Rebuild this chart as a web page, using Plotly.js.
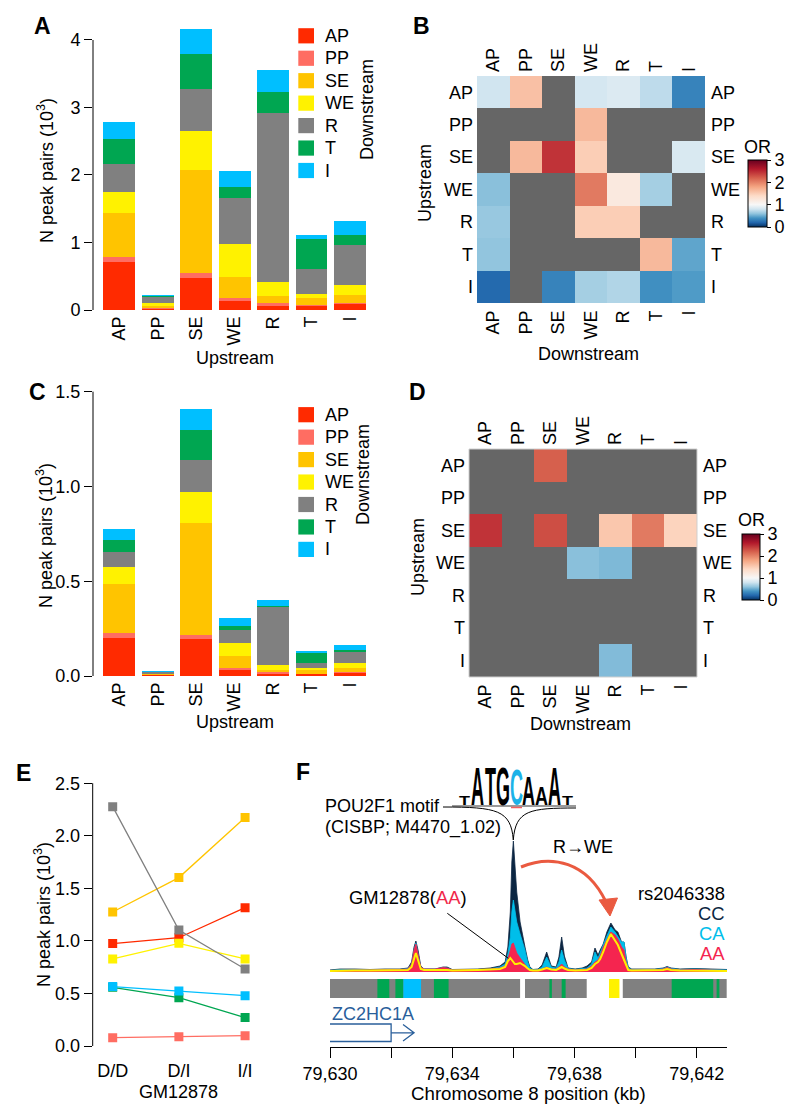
<!DOCTYPE html>
<html><head><meta charset="utf-8">
<script src="https://cdn.plot.ly/plotly-3.0.1.min.js"></script>
<style>html,body{margin:0;padding:0;background:#fff}#plot{width:800px;height:1119px}</style>
</head><body><div id="plot"></div>
<script>
// ---------- DATA ----------
const classes = ['AP','PP','SE','WE','R','T','I'];
const classColors = ['#FF2A00','#FF6D62','#FFC400','#FFF200','#808080','#00A651','#00BFFF'];

// Panel A: all peak pairs (10^3); one array per downstream class, across upstream classes
const A_AP = [0.716, 0.020, 0.479, 0.133, 0.064, 0.064, 0.094];
const A_PP = [0.064, 0.012, 0.069, 0.050, 0.035, 0.010, 0.015];
const A_SE = [0.652, 0.025, 1.526, 0.311, 0.113, 0.109, 0.118];
const A_WE = [0.311, 0.045, 0.573, 0.479, 0.208, 0.054, 0.143];
const A_R  = [0.420, 0.095, 0.627, 0.686, 2.499, 0.365, 0.588];
const A_T  = [0.365, 0.010, 0.514, 0.158, 0.311, 0.445, 0.153];
const A_I  = [0.252, 0.015, 0.380, 0.247, 0.321, 0.059, 0.212];

// Panel C: subset of peak pairs (10^3)
const C_AP = [0.202, 0.003, 0.197, 0.032, 0.012, 0.009, 0.018];
const C_PP = [0.023, 0.002, 0.019, 0.010, 0.007, 0.003, 0.003];
const C_SE = [0.259, 0.005, 0.593, 0.065, 0.014, 0.020, 0.023];
const C_WE = [0.089, 0.003, 0.160, 0.065, 0.027, 0.012, 0.023];
const C_R  = [0.083, 0.006, 0.170, 0.072, 0.302, 0.026, 0.060];
const C_T  = [0.061, 0.004, 0.159, 0.022, 0.009, 0.053, 0.012];
const C_I  = [0.058, 0.002, 0.110, 0.038, 0.032, 0.009, 0.025];

// Panel B: odds ratios (rows upstream, cols downstream; null = not significant)
const B_OR = [
  [0.80, 1.60, null, 0.82, 0.86, 0.74, 0.33],
  [null, null, null, 1.65, null, null, null],
  [null, 1.65, 2.45, 1.50, null, null, 0.84],
  [0.58, null, null, 2.05, 1.20, 0.66, null],
  [0.62, null, null, 1.50, 1.50, null, null],
  [0.60, null, null, null, null, 1.65, 0.47],
  [0.22, null, 0.33, 0.66, 0.70, 0.38, 0.43]
];
// Panel D: odds ratios
const D_OR = [
  [null, null, 2.20, null, null, null, null],
  [null, null, null, null, null, null, null],
  [2.45, null, 2.30, null, 1.55, 2.05, 1.45],
  [null, null, null, 0.58, 0.55, null, null],
  [null, null, null, null, null, null, null],
  [null, null, null, null, null, null, null],
  [null, null, null, null, 0.56, null, null]
];
const orTicks = [0, 1, 2, 3];

// Panel E: peak pairs by GM12878 genotype (10^3)
const genotypes = ['D/D', 'D/I', 'I/I'];
const E_AP = [0.974, 1.030, 1.316];
const E_PP = [0.079, 0.089, 0.098];
const E_SE = [1.275, 1.602, 2.173];
const E_WE = [0.828, 0.977, 0.828];
const E_R  = [2.277, 1.104, 0.733];
const E_T  = [0.558, 0.460, 0.270];
const E_I  = [0.565, 0.523, 0.479];

// Panel F: signal tracks along chr8 (kb)
const fPos = [79630.00,79630.33,79630.82,79631.31,79631.80,79632.29,79632.55,79632.67,79632.75,79632.81,
  79632.88,79632.97,79633.08,79633.44,79633.70,79633.83,79634.00,79634.42,79634.84,79635.24,
  79635.56,79635.73,79635.82,79635.90,79635.95,79636.00,79636.05,79636.11,79636.22,79636.32,
  79636.38,79636.47,79636.54,79636.64,79636.81,79636.94,79637.09,79637.24,79637.40,79637.49,
  79637.58,79637.67,79637.79,79638.02,79638.25,79638.41,79638.56,79638.67,79638.77,79638.84,
  79638.94,79639.06,79639.19,79639.33,79639.42,79639.54,79639.62,79639.69,79639.76,79639.87,
  79640.14,79640.63,79640.90,79641.03,79641.16,79641.45,79641.94,79642.44,79643.00];
const sigCC = [2,3,3,2.5,3,3,4,10,25,31, 22,6,3,3,5,5,2.5,2.5,3,4, 6,10,25,60,110,131,112,80,50,32,
  25,12,5,2.5,3,7,20,6,5,15, 35,16,4,3,4,6,10,24,17,22, 28,40,49,42,40,30,30,15,5,3, 3,3,4,5.5,4,3,3.5,3,2.5];
const sigCA = [1.5,2.5,2.5,2,2.5,2.5,3.5,8,22,29, 18,5,3,3,4.5,4,2,2,2.5,3, 5,8,18,35,60,72,62,50,38,29,
  22,10,4,2,2.5,5,15,5,4,10, 22,12,3.5,2.5,3,4,8,20,14,20, 27,36,45,40,36,30,30,14,4,2.5, 2.5,2.5,3.5,5,3.5,2.5,3,2.5,2];
const sigAA = [1.5,2,2,2,2,2.5,3,8,22,28, 18,5,3,3,4.5,4,2,2,2.5,3, 4,6,13,22,28,29,25,19,14,10,
  7,4,2.5,1.5,2,3,5,3,3,5, 8,5,3,2,2.5,3,6,10,12,16, 25,33,40,37,33,25,22,10,3,2, 2,2,3,4.5,3,2,2.5,2,1.5];
const sigGM = [1,1.5,1.5,1.5,1.5,1.5,2,5,14,19, 12,3,2,2,2.5,2,1.5,1.5,2,2.5, 3,5,11,14,12,10,8,8,9,7,
  6,3.5,2,1.5,1.5,2.5,4,2.5,2,3.5, 5,3.5,2,1.5,1.5,2,4,8,10,13, 20,30,38,32,27,18,12,6,2,1.5, 1.5,1.5,2,3,2,1.5,1.5,1.5,1];
const genoLabels = ['CC', 'CA', 'AA'];
const genoColors = ['#0B2642', '#00BEEA', '#F5254F'];

// chromatin state segments
const stateStart = [79630.00, 79636.38, 79639.58, 79639.13, 79631.55, 79632.14, 79632.40, 79633.40, 79637.18, 79637.58, 79641.18, 79642.65];
const stateEnd   = [79636.22, 79638.40, 79642.98, 79639.47, 79631.94, 79632.40, 79632.98, 79633.88, 79637.26, 79637.71, 79642.54, 79642.74];
const stateClass = ['R','R','R','WE','T','T','I','T','T','T','T','T'];

// gene model
const geneName = 'ZC2HC1A';
const geneExonStart = 79630.0, geneExonEnd = 79632.0, geneArrowEnd = 79632.75;
const genomicTicks = [79630, 79632, 79634, 79636, 79638, 79640, 79642];
const genomicTickText = ['79,630', '', '79,634', '', '79,638', '', '79,642'];

// motif logo (POU2F1, information in bits)
const logoLetters = ['T','A','T','G','C','A','A','A','T'];
const logoBits = [0.5, 2.0, 2.0, 2.0, 1.9, 1.55, 0.95, 2.0, 0.5];

// ---------- HELPERS ----------
const FONT = 'Liberation Sans, Arial, Helvetica, sans-serif';
const W = 800, H = 1119;
const fx = p => p / W;
const fy = p => 1 - p / H;
const dX = (a, b) => [a / W, b / W];
const dY = (top, bot) => [1 - bot / H, 1 - top / H];
const P = (x, y) => fx(x).toFixed(5) + ',' + fy(y).toFixed(5);
const TICK = 18, TITLE = 18;

const annotations = [];
function txt(text, x, y, o = {}) {
  const font = Object.assign({ size: 18, color: '#000', family: FONT }, o.font || {});
  const a = Object.assign({ text, x: fx(x), y: fy(y), xref: 'paper', yref: 'paper', showarrow: false,
    xanchor: 'center', yanchor: 'middle' }, o);
  a.font = font;
  annotations.push(a);
  return annotations.length - 1;
}
const shapes = [];

// ---------- TRACES ----------
const traces = [];
const stackA = [A_AP, A_PP, A_SE, A_WE, A_R, A_T, A_I];
const stackC = [C_AP, C_PP, C_SE, C_WE, C_R, C_T, C_I];
classes.forEach((c, i) => {
  traces.push({ type: 'bar', x: classes, y: stackA[i], name: c, xaxis: 'x', yaxis: 'y',
    marker: { color: classColors[i], line: { width: 0 } }, hoverinfo: 'skip' });
});
classes.forEach((c, i) => {
  traces.push({ type: 'bar', x: classes, y: stackC[i], name: c, xaxis: 'x4', yaxis: 'y4',
    marker: { color: classColors[i], line: { width: 0 } }, hoverinfo: 'skip' });
});

const rdbu = [[0, '#053061'], [0.0667, '#2166AC'], [0.1333, '#4393C3'], [0.2, '#92C5DE'], [0.2667, '#D1E5F0'],
  [0.3333, '#F7F7F7'], [0.4667, '#FDDBC7'], [0.6, '#F4A582'], [0.7333, '#D6604D'], [0.8667, '#B2182B'], [1, '#67001F']];
function cbar(xp, yTop, yBot, thick) {
  return { x: fx(xp), xanchor: 'left', y: fy(yBot), yanchor: 'bottom', len: yBot - yTop, lenmode: 'pixels',
    thickness: thick, thicknessmode: 'pixels', outlinewidth: 1, outlinecolor: '#000', xpad: 0, ypad: 0,
    tickvals: orTicks, ticks: 'outside', ticklen: 4, tickcolor: '#000', tickfont: { size: TICK, family: FONT } };
}
traces.push({ type: 'heatmap', x: classes, y: classes, z: B_OR, xaxis: 'x2', yaxis: 'y2', colorscale: rdbu,
  zmin: 0, zmax: 3, colorbar: cbar(748, 160, 227, 19), hoverinfo: 'skip' });
traces.push({ type: 'heatmap', x: classes, y: classes, z: B_OR, xaxis: 'x3', yaxis: 'y3', colorscale: rdbu,
  zmin: 0, zmax: 3, showscale: false, opacity: 0, hoverinfo: 'skip' });
traces.push({ type: 'heatmap', x: classes, y: classes, z: D_OR, xaxis: 'x5', yaxis: 'y5', colorscale: rdbu,
  zmin: 0, zmax: 3, colorbar: cbar(742, 534, 600, 18), hoverinfo: 'skip' });
traces.push({ type: 'heatmap', x: classes, y: classes, z: D_OR, xaxis: 'x6', yaxis: 'y6', colorscale: rdbu,
  zmin: 0, zmax: 3, showscale: false, opacity: 0, hoverinfo: 'skip' });

const stackE = [E_AP, E_PP, E_SE, E_WE, E_R, E_T, E_I];
classes.forEach((c, i) => {
  traces.push({ type: 'scatter', mode: 'lines+markers', x: genotypes, y: stackE[i], name: c, xaxis: 'x7', yaxis: 'y7',
    line: { color: classColors[i], width: 1.3 }, marker: { symbol: 'square', size: 9, color: classColors[i] }, hoverinfo: 'skip' });
});

const sigs = [sigCC, sigCA, sigAA];
sigs.forEach((s, i) => {
  traces.push({ type: 'scatter', mode: 'lines', x: fPos, y: s, xaxis: 'x8', yaxis: 'y8', fill: 'tozeroy',
    fillcolor: genoColors[i], line: { color: genoColors[i], width: 0.8 }, hoverinfo: 'skip' });
});
traces.push({ type: 'scatter', mode: 'lines', x: fPos, y: sigGM, xaxis: 'x8', yaxis: 'y8',
  line: { color: '#FFF000', width: 2 }, hoverinfo: 'skip' });

// ---------- AXES ----------
const noGrid = { showgrid: false, zeroline: false, showline: false, fixedrange: true };
const catX = Object.assign({ type: 'category', categoryorder: 'array', categoryarray: classes, ticks: '', tickangle: -90,
  tickfont: { size: TICK } }, noGrid);
const catH = Object.assign({ type: 'category', categoryorder: 'array', categoryarray: classes, ticks: '',
  tickfont: { size: TICK } }, noGrid);
const numY = (range, tickvals, fmt) => Object.assign({ range, tickvals, tickformat: fmt, ticks: 'outside', ticklen: 8,
  tickcolor: '#000', tickwidth: 1, tickfont: { size: TICK } }, noGrid);

const layout = {
  width: W, height: H, margin: { l: 0, r: 0, t: 0, b: 0, autoexpand: false },
  paper_bgcolor: '#fff', plot_bgcolor: 'rgba(0,0,0,0)', showlegend: false,
  font: { family: FONT, size: TICK, color: '#000' }, barmode: 'stack', bargap: 0.173,
  xaxis: Object.assign({}, catX, { domain: dX(93, 370), range: [-0.681, 6.52], anchor: 'y', ticklabelstandoff: 2 }),
  yaxis: Object.assign(numY([0, 4.222], [0, 1, 2, 3, 4], 'd'), { domain: dY(25, 310), anchor: 'x' }),
  xaxis4: Object.assign({}, catX, { domain: dX(93, 370), range: [-0.681, 6.52], anchor: 'y4', ticklabelstandoff: 2 }),
  yaxis4: Object.assign(numY([0, 1.535], [0, 0.5, 1, 1.5], '.1f'), { domain: dY(385, 676), anchor: 'x4' }),

  xaxis2: Object.assign({}, catH, { domain: dX(477, 705), range: [-0.5, 6.5], anchor: 'y2', side: 'bottom', tickangle: -90, ticklabelstandoff: 3 }),
  yaxis2: Object.assign({}, catH, { domain: dY(76, 303), range: [6.5, -0.5], anchor: 'x2', side: 'left', ticklabelstandoff: 3 }),
  xaxis3: Object.assign({}, catH, { overlaying: 'x2', range: [-0.5, 6.5], anchor: 'y2', side: 'top', tickangle: -90, ticklabelstandoff: 3 }),
  yaxis3: Object.assign({}, catH, { overlaying: 'y2', range: [6.5, -0.5], anchor: 'x2', side: 'right', ticklabelstandoff: 5 }),

  xaxis5: Object.assign({}, catH, { domain: dX(469, 697), range: [-0.5, 6.5], anchor: 'y5', side: 'bottom', tickangle: -90, ticklabelstandoff: 3 }),
  yaxis5: Object.assign({}, catH, { domain: dY(449, 677), range: [6.5, -0.5], anchor: 'x5', side: 'left', ticklabelstandoff: 3 }),
  xaxis6: Object.assign({}, catH, { overlaying: 'x5', range: [-0.5, 6.5], anchor: 'y5', side: 'top', tickangle: -90, ticklabelstandoff: 3 }),
  yaxis6: Object.assign({}, catH, { overlaying: 'y5', range: [6.5, -0.5], anchor: 'x5', side: 'right', ticklabelstandoff: 5 }),

  xaxis7: Object.assign({ type: 'category', categoryorder: 'array', categoryarray: genotypes, ticks: '', tickfont: { size: TICK } }, noGrid,
    { domain: dX(92.7, 265), range: [-0.302, 2.301], anchor: 'y7', ticklabelstandoff: 12 }),
  yaxis7: Object.assign(numY([0, 2.578], [0, 0.5, 1, 1.5, 2, 2.5], '.1f'), { domain: dY(775, 1046), anchor: 'x7' }),

  xaxis8: Object.assign({}, noGrid, { domain: dX(330, 727), range: [79630, 79642.99], anchor: 'free', position: fy(1046.5),
    showline: true, linecolor: '#000', linewidth: 1, ticks: 'outside', ticklen: 10, tickcolor: '#000',
    tickvals: genomicTicks, ticktext: genomicTickText, ticklabelstandoff: 1, tickfont: { size: TICK } }),
  yaxis8: Object.assign({}, noGrid, { domain: dY(830, 978), range: [-6, 142], anchor: 'x8', visible: false }),
  annotations, shapes
};

// axis lines (span of tick range only)
[['x', 'y', 4], ['x4', 'y4', 1.5], ['x7', 'y7', 2.5]].forEach(([xa, ya, top]) => {
  shapes.push({ type: 'line', xref: xa + ' domain', yref: ya, x0: 0, x1: 0, y0: 0, y1: top, line: { color: '#000', width: 1 } });
});
// gray "not significant" background behind heatmaps
[['x2', 'y2'], ['x5', 'y5']].forEach(([xa, ya]) => {
  shapes.push({ type: 'rect', xref: xa + ' domain', yref: ya + ' domain', x0: 0, x1: 1, y0: 0, y1: 1,
    fillcolor: '#666666', line: { width: 0 }, layer: 'below' });
});
shapes.push({ type: 'rect', xref: 'x5 domain', yref: 'y5 domain', x0: 0, x1: 1, y0: 0, y1: 1,
  fillcolor: 'rgba(0,0,0,0)', line: { width: 1, color: '#cfcfcf' } });

// legends for A and C
function legendAt(topCenter) {
  classes.forEach((c, i) => {
    const cy = topCenter + i * 22.45;
    shapes.push({ type: 'rect', xref: 'paper', yref: 'paper', x0: fx(298.3), x1: fx(314), y0: fy(cy + 7.6), y1: fy(cy - 7.6),
      fillcolor: classColors[i], line: { width: 0 } });
    txt(c, 323, cy, { xanchor: 'left' });
  });
}
legendAt(35.8);
legendAt(414.7);

// chromatin state bar
stateStart.forEach((s, i) => {
  shapes.push({ type: 'rect', xref: 'x8', yref: 'paper', x0: s, x1: stateEnd[i], y0: fy(998), y1: fy(979),
    fillcolor: classColors[classes.indexOf(stateClass[i])], line: { width: 0 } });
});
// gene model
const geneColor = '#2A5F9B';
shapes.push({ type: 'path', xref: 'x8', yref: 'paper', line: { color: geneColor, width: 1.3 },
  path: `M${geneExonStart},${fy(1024)} L${geneExonEnd},${fy(1024)} L${geneExonEnd},${fy(1041.5)} L${geneExonStart},${fy(1041.5)}` });
shapes.push({ type: 'path', xref: 'x8', yref: 'paper', line: { color: geneColor, width: 1.3 },
  path: `M${geneExonEnd},${fy(1032.8)} L${geneArrowEnd},${fy(1032.8)} M${geneArrowEnd - 0.36},${fy(1024.5)} L${geneArrowEnd},${fy(1032.8)} L${geneArrowEnd - 0.36},${fy(1041)}` });

// motif brace + logo baseline
shapes.push({ type: 'line', xref: 'paper', yref: 'paper', x0: fx(452), x1: fx(576), y0: fy(806), y1: fy(806), line: { color: '#9a9a9a', width: 2 } });
shapes.push({ type: 'line', xref: 'paper', yref: 'paper', x0: fx(511), x1: fx(522), y0: fy(807.5), y1: fy(807.5), line: { color: '#F06060', width: 1.5 } });
shapes.push({ type: 'path', xref: 'paper', yref: 'paper', line: { color: '#000', width: 1 },
  path: `M${P(443, 807)} C${P(497, 807)} ${P(511, 810)} ${P(513.3, 840)} C${P(515.5, 810)} ${P(530, 808)} ${P(576, 808)}` });
// pointer to GM12878 track
shapes.push({ type: 'line', xref: 'paper', yref: 'paper', x0: fx(447.3), y0: fy(913.3), x1: fx(508.3), y1: fy(958.3), line: { color: '#000', width: 1 } });
// R -> WE arrow
shapes.push({ type: 'path', xref: 'paper', yref: 'paper', line: { color: '#EA5A40', width: 3 },
  path: `M${P(521, 867)} C${P(552, 854)} ${P(587, 862)} ${P(606, 902)}` });
shapes.push({ type: 'path', xref: 'paper', yref: 'paper', line: { color: '#EA5A40', width: 1 }, fillcolor: '#EA5A40',
  path: `M${P(599, 900)} L${P(617.5, 898)} L${P(610, 916)} Z` });

// ---------- TEXT ----------
const big = { font: { size: 23, family: 'Liberation Sans, Arial, sans-serif' } };
txt('<b>A</b>', 42, 26, big); txt('<b>B</b>', 421, 26, big); txt('<b>C</b>', 37, 392, big);
txt('<b>D</b>', 417, 392, big); txt('<b>E</b>', 23, 773, big); txt('<b>F</b>', 303, 772, big);

const yTitle = 'N peak pairs (10<sup>3</sup>)';
const tf = { font: { size: TITLE } };
txt(yTitle, 45, 171, { textangle: -90, font: { size: TITLE } });
txt('Upstream', 234.5, 358, tf);
txt('Downstream', 367, 110, { textangle: -90, font: { size: TITLE } });
txt(yTitle, 45, 536, { textangle: -90, font: { size: TITLE } });
txt('Upstream', 234.5, 722, tf);
txt('Downstream', 363, 475, { textangle: -90, font: { size: TITLE } });
txt('Upstream', 425, 183, { textangle: -90, font: { size: TITLE } });
txt('Downstream', 588, 354, tf);
txt('Upstream', 418, 557, { textangle: -90, font: { size: TITLE } });
txt('Downstream', 580, 724, tf);
txt('OR', 757, 147, tf);
txt('OR', 751, 520, tf);
txt(yTitle, 42, 915, { textangle: -90, font: { size: TITLE } });
txt('GM12878', 178, 1092);
txt('Chromosome 8 position (kb)', 528, 1093, { font: { size: 18.7 } });

txt('POU2F1 motif', 323, 806, { xanchor: 'left' });
txt('(CISBP; M4470_1.02)', 323, 827, { xanchor: 'left' });
txt('R\u2192WE', 583, 847);
txt('GM12878(<span style="color:#F0284A">AA</span>)', 347, 897, { xanchor: 'left', font: { size: 18.4 } });
txt('rs2046338', 727, 893, { xanchor: 'right', font: { size: 18.4 } });
genoLabels.forEach((g, i) => txt(g, 727, 913 + i * 20, { xanchor: 'right', font: { color: genoColors[i], size: 18.4 } }));
txt(geneName, 330, 1014, { xanchor: 'left', font: { color: geneColor, size: 18 } });

// logo letters (scaled vertically after render)
const logoSpec = {};
const LOGO_FS = 18, LOGO_BASE = 805.5, PX_PER_BIT = 19;
logoLetters.forEach((L, i) => {
  const idx = txt('<b>' + L + '</b>', 464.5 + i * 12.875, 795, { font: { size: LOGO_FS, color: L === 'C' ? '#1CB2E8' : '#000' } });
  logoSpec[idx] = { h: logoBits[i] * PX_PER_BIT };
});

Plotly.newPlot('plot', traces, layout, { displayModeBar: false, staticPlot: true }).then(gd => {
  gd.querySelectorAll('.annotation').forEach(el => {
    const idx = +el.getAttribute('data-index');
    const spec = logoSpec[idx];
    if (!spec) return;
    const t = el.querySelector('text');
    if (!t) return;
    const bb = t.getBBox();
    const r = t.getBoundingClientRect();
    const baseLocal = bb.y + bb.height * 0.81;
    const baseAbs = r.top + r.height * 0.81;
    const shift = LOGO_BASE - baseAbs;
    const sy = spec.h / (0.716 * LOGO_FS);
    const prev = t.getAttribute('transform') || '';
    t.setAttribute('transform', prev + ` translate(0,${shift}) translate(0,${baseLocal}) scale(1,${sy}) translate(0,${-baseLocal})`);
  });
});
</script>
</body></html>
